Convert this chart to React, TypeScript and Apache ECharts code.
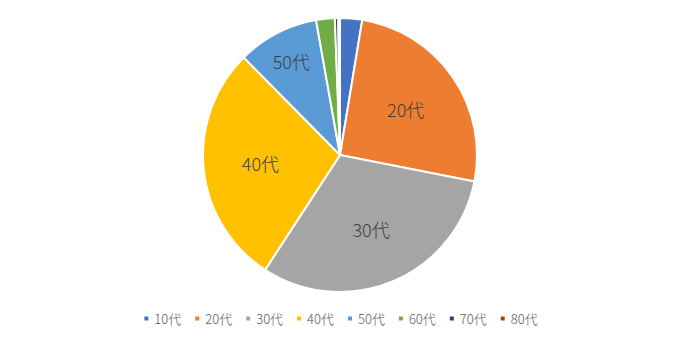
import React, { useEffect, useRef } from "react";
import * as echarts from "echarts";

const categories = ["10代", "20代", "30代", "40代", "50代", "60代", "70代", "80代"];
const values = [2.6, 25.5, 31.1, 28.4, 9.6, 2.2, 0.4, 0.2];
const colors = ["#4472C4", "#ED7D31", "#A5A5A5", "#FFC000", "#5B9BD5", "#70AD47", "#264478", "#9E480E"];
const innerLabelShown = ["20代", "30代", "40代"];
const outerLabelShown = ["50代"];

const FONT = "'Noto Sans CJK JP', 'Noto Sans', sans-serif";

export default function App() {
  const ref = useRef<HTMLDivElement>(null);
  useEffect(() => {
    if (!ref.current) return;
    const chart = echarts.init(ref.current, undefined, { renderer: "svg" });
    const baseData = categories.map((c, i) => ({ name: c, value: values[i] }));
    const overlay = (shown: string[], radius: number) => ({
      type: "pie",
      radius: radius,
      center: [340, 155],
      startAngle: 90,
      clockwise: true,
      silent: true,
      legendHoverLink: false,
      itemStyle: { color: "rgba(0,0,0,0)", borderWidth: 0 },
      label: {
        show: true,
        position: "inside",
        formatter: (p: any) => (shown.includes(p.name) ? p.name : ""),
        color: "#404040",
        fontSize: 18,
        fontWeight: 300,
        fontFamily: FONT,
      },
      labelLine: { show: false },
      emphasis: { disabled: true },
      tooltip: { show: false },
      data: baseData.map((d) => ({ ...d })),
    });
    chart.setOption({
      animation: false,
      color: colors,
      legend: {
        bottom: 12,
        left: "center",
        icon: "rect",
        itemWidth: 6,
        itemHeight: 6,
        itemGap: 12,
        data: categories,
        textStyle: { color: "#595959", fontSize: 13, fontWeight: 300, fontFamily: FONT },
      },
      series: [
        {
          type: "pie",
          name: "main",
          radius: 137,
          center: [340, 155],
          startAngle: 90,
          clockwise: true,
          itemStyle: { borderColor: "#ffffff", borderWidth: 2 },
          label: { show: false },
          labelLine: { show: false },
          data: baseData,
        },
        overlay(innerLabelShown, 154),
        overlay(outerLabelShown, 206),
      ],
    });
    return () => chart.dispose();
  }, []);
  return (
    <div
      ref={ref}
      style={{ position: "fixed", left: 0, top: 0, width: 680, height: 342, background: "#ffffff" }}
    />
  );
}
